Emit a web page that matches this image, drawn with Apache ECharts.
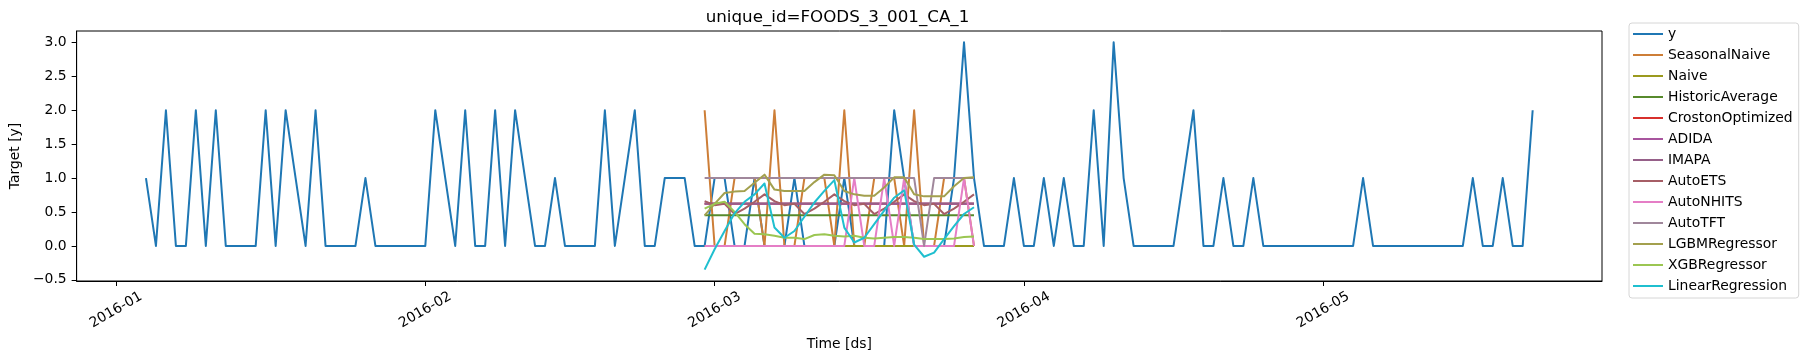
<!DOCTYPE html>
<html>
<head>
<meta charset="utf-8">
<script src="https://cdn.jsdelivr.net/npm/echarts@6/dist/echarts.min.js"></script>
<style>
html,body{margin:0;padding:0;background:#fff;}
#chart{width:1813px;height:361px;}
</style>
</head>
<body>
<div id="chart"></div>
<script>
// ---------------- data ----------------
const chartTitle = 'unique_id=FOODS_3_001_CA_1';
const xName = 'Time [ds]';
const yName = 'Target [y]';
const originDate = '2016-01-01';
const yStartDate = '2016-01-04';
const yValues = [
  1,0,2,0,0,2,0,2,0,0,
  0,0,2,0,2,1,0,2,0,0,
  0,0,1,0,0,0,0,0,0,2,
  1,0,2,0,0,2,0,2,1,0,
  0,1,0,0,0,0,2,0,1,2,
  0,0,1,1,1,0,0,1,1,0,
  0,1,0,0,0,1,0,0,0,0,
  1,0,0,0,0,2,1,0,0,0,
  0,1,3,1,0,0,0,1,0,0,
  1,0,1,0,0,2,0,3,1,0,
  0,0,0,0,1,2,0,0,1,0,
  0,1,0,0,0,0,0,0,0,0,
  0,0,1,0,0,0,0,0,0,0,
  0,0,0,1,0,0,1,0,0,2
];
const forecastStartDate = '2016-02-29';
const seasonalNaive = [2,0,0,1,1,1,0, 2,0,0,1,1,1,0, 2,0,0,1,1,1,0, 2,0,0,1,1,1,0];
const naive = [0,0,0,0,0,0,0, 0,0,0,0,0,0,0, 0,0,0,0,0,0,0, 0,0,0,0,0,0,0];
const historicAverage = [0.45,0.45,0.45,0.45,0.45,0.45,0.45, 0.45,0.45,0.45,0.45,0.45,0.45,0.45, 0.45,0.45,0.45,0.45,0.45,0.45,0.45, 0.45,0.45,0.45,0.45,0.45,0.45,0.45];
const crostonOptimized = [0.62,0.62,0.62,0.62,0.62,0.62,0.62, 0.62,0.62,0.62,0.62,0.62,0.62,0.62, 0.62,0.62,0.62,0.62,0.62,0.62,0.62, 0.62,0.62,0.62,0.62,0.62,0.62,0.62];
const adida = [0.62,0.62,0.62,0.62,0.62,0.62,0.62, 0.62,0.62,0.62,0.62,0.62,0.62,0.62, 0.62,0.62,0.62,0.62,0.62,0.62,0.62, 0.62,0.62,0.62,0.62,0.62,0.62,0.62];
const imapa = [0.625,0.625,0.625,0.625,0.625,0.625,0.625, 0.625,0.625,0.625,0.625,0.625,0.625,0.625, 0.625,0.625,0.625,0.625,0.625,0.625,0.625, 0.625,0.625,0.625,0.625,0.625,0.625,0.625];
const autoETS = [0.66,0.60,0.62,0.47,0.55,0.65,0.76, 0.66,0.60,0.62,0.47,0.55,0.65,0.76, 0.66,0.60,0.62,0.47,0.55,0.65,0.76, 0.66,0.60,0.62,0.47,0.55,0.65,0.76];
const autoNHITS = [0,0,0,0,0,0,0, 0,0,0,0,0,0,0, 0,1,0,0,1,0,1, 0,0,0,0,0,1,0];
const autoTFT = [1,1,1,1,1,1,1, 1,1,1,1,1,1,1, 1,1,1,1,1,1,1, 1,0,1,1,1,1,1];
const lgbmRegressor = [0.45,0.62,0.78,0.80,0.81,0.93,1.05, 0.83,0.81,0.81,0.81,0.94,1.05,1.04, 0.81,0.76,0.74,0.74,0.86,1.01,1.01, 0.76,0.73,0.73,0.73,0.88,1.00,1.01];
const xgbRegressor = [0.55,0.62,0.65,0.50,0.32,0.18,0.17, 0.15,0.12,0.12,0.10,0.16,0.17,0.15, 0.14,0.15,0.12,0.11,0.12,0.13,0.13, 0.12,0.10,0.10,0.10,0.11,0.13,0.14];
const linearRegression = [-0.35,-0.05,0.22,0.48,0.65,0.76,0.92, 0.27,0.12,0.22,0.43,0.64,0.81,0.97, 0.27,0.05,0.12,0.32,0.52,0.71,0.82, 0.02,-0.16,-0.10,0.10,0.29,0.47,0.57];

const seriesNames = ['y','SeasonalNaive','Naive','HistoricAverage','CrostonOptimized','ADIDA','IMAPA','AutoETS','AutoNHITS','AutoTFT','LGBMRegressor','XGBRegressor','LinearRegression'];
const seriesColors = ['#1f77b4','#cd7e37','#9b9a1e','#578a2c','#d8302c','#a8559e','#966089','#a65e66','#e57ec6','#a0879b','#a3a04e','#9bc652','#1fbfcf'];
const forecastValues = [seasonalNaive, naive, historicAverage, crostonOptimized, adida, imapa, autoETS, autoNHITS, autoTFT, lgbmRegressor, xgbRegressor, linearRegression];

const tickDates = ['2016-01-01','2016-02-01','2016-03-01','2016-04-01','2016-05-01'];
const tickLabels = ['2016-01','2016-02','2016-03','2016-04','2016-05'];
const yTicks = [-0.5,0,0.5,1,1.5,2,2.5,3];

// ---------------- helpers ----------------
const DAY = 86400000;
const originMs = Date.parse(originDate + 'T00:00:00Z');
function dayIndex(s){ return (Date.parse(s + 'T00:00:00Z') - originMs) / DAY; }
function toPairs(startDate, vals){
  const s = dayIndex(startDate);
  return vals.map((v,i)=>[s+i, v]);
}
const tickX = tickDates.map(dayIndex);

const yPairs = toPairs(yStartDate, yValues);
const allVals = yValues.concat(...forecastValues);
const xFirst = dayIndex(yStartDate), xLast = xFirst + yValues.length - 1;
const xPad = (xLast - xFirst) * 0.05;
const vMin = Math.min(...allVals), vMax = Math.max(...allVals);
const vPad = (vMax - vMin) * 0.05;

const FONT = 'DejaVu Sans';
const series = [];
series.push({name: seriesNames[0], data: yPairs});
forecastValues.forEach((vals, i) => series.push({name: seriesNames[i+1], data: toPairs(forecastStartDate, vals)}));
series.forEach((s, i) => {
  s.type = 'line';
  s.showSymbol = false;
  s.symbol = 'none';
  s.animation = false;
  s.color = seriesColors[i];
  s.lineStyle = {width: 2, color: seriesColors[i], join: 'round'};
  s.emphasis = {disabled: true};
});

const chart = echarts.init(document.getElementById('chart'), null, {renderer: 'canvas'});
chart.setOption({
  animation: false,
  backgroundColor: '#fff',
  textStyle: {fontFamily: FONT},
  grid: {left: 73, top: 31, width: 1529, height: 250, show: true, borderColor: '#000', borderWidth: 1, containLabel: false},
  graphic: [{
    type: 'text', x: 837.5, y: 17.5, silent: true,
    style: {text: chartTitle, fontFamily: FONT, fontSize: 16.7, fill: '#000', align: 'center', verticalAlign: 'middle', textAlign: 'center', textVerticalAlign: 'middle'}
  }],
  legend: {
    orient: 'vertical', left: 1629, top: 23,
    padding: [3, 6, 4, 4],
    borderColor: '#d6d6d6', borderWidth: 1, borderRadius: 3,
    itemWidth: 30, itemHeight: 2, itemGap: 5, itemTextGap: 11,
    icon: 'rect',
    data: seriesNames,
    textStyle: {fontFamily: FONT, fontSize: 13.9, color: '#000', lineHeight: 16},
    selectedMode: false
  },
  xAxis: {
    type: 'value', min: xFirst - xPad, max: xLast + xPad,
    name: xName, nameLocation: 'middle', nameGap: 55,
    nameTextStyle: {fontFamily: FONT, fontSize: 13.9, color: '#000'},
    splitLine: {show: false},
    axisLine: {show: true, onZero: false, lineStyle: {color: '#000', width: 1}},
    axisTick: {show: true, length: 5, lineStyle: {color: '#000', width: 1}, customValues: tickX},
    axisLabel: {
      customValues: tickX, rotate: 30, align: 'center', verticalAlign: 'middle', margin: 29,
      fontFamily: FONT, fontSize: 13.9, color: '#000',
      formatter: v => { const k = tickX.findIndex(t => Math.abs(t - v) < 1e-6); return k >= 0 ? tickLabels[k] : ''; }
    }
  },
  yAxis: {
    type: 'value', min: vMin - vPad, max: vMax + vPad,
    name: yName, nameLocation: 'middle', nameGap: 52,
    nameTextStyle: {fontFamily: FONT, fontSize: 13.9, color: '#000'},
    splitLine: {show: false},
    axisLine: {show: true, onZero: false, lineStyle: {color: '#000', width: 1}},
    axisTick: {show: true, length: 5, lineStyle: {color: '#000', width: 1}, customValues: yTicks},
    axisLabel: {
      customValues: yTicks, margin: 10,
      fontFamily: FONT, fontSize: 13.9, color: '#000',
      formatter: v => v.toFixed(1).replace('-', '\u2212')
    }
  },
  series: series
});
</script>
</body>
</html>
